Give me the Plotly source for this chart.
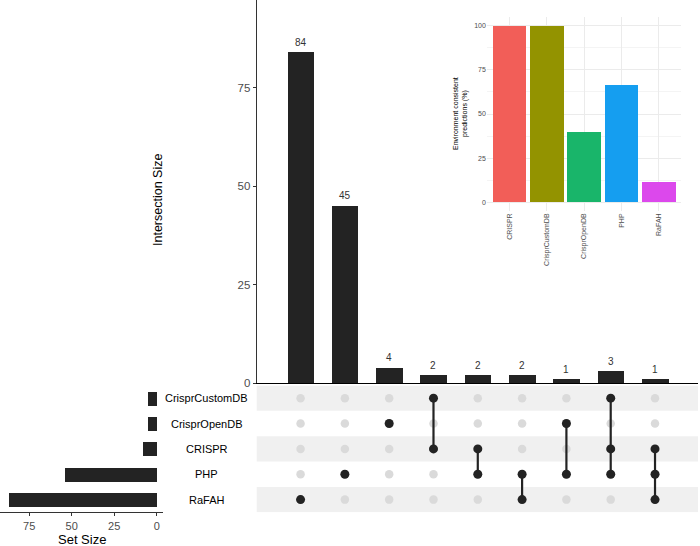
import plotly.graph_objects as go

# ---------------- data ----------------
sets = ["CrisprCustomDB", "CrisprOpenDB", "CRISPR", "PHP", "RaFAH"]   # top -> bottom
set_sizes = [5, 5, 8, 54, 87]
intersection_sizes = [84, 45, 4, 2, 2, 2, 1, 3, 1]
intersection_members = [
    ["RaFAH"],
    ["PHP"],
    ["CrisprOpenDB"],
    ["CrisprCustomDB", "CRISPR"],
    ["CRISPR", "PHP"],
    ["PHP", "RaFAH"],
    ["CrisprOpenDB", "PHP"],
    ["CrisprCustomDB", "CRISPR", "PHP"],
    ["CRISPR", "PHP", "RaFAH"],
]
inset_categories = ["CRISPR", "CrisprCustomDB", "CrisprOpenDB", "PHP", "RaFAH"]
inset_values = [100, 100, 40, 66.7, 11.5]
inset_colors = ["#F25E58", "#939300", "#19B56A", "#159EF0", "#DC48EC"]
main_ticks = [0, 25, 50, 75]
set_ticks = [0, 25, 50, 75]
inset_ticks = [0, 25, 50, 75, 100]

W, H = 700, 546
FONT = "Liberation Sans, Arial, sans-serif"
DARK = "#232323"
TICKC = "#4D4D4D"


def px(x):
    return x / W


def py(y):
    return 1 - y / H


# row index: bottom row = 0
nrow = len(sets)
row_of = {s: nrow - 1 - i for i, s in enumerate(sets)}
ncol = len(intersection_sizes)
cols = list(range(ncol))

fig = go.Figure()

# main intersection bars
fig.add_trace(go.Bar(x=cols, y=intersection_sizes, marker=dict(color=DARK, line=dict(width=0)),
                     width=0.6, xaxis="x", yaxis="y", showlegend=False, hoverinfo="skip"))

# matrix: background dots
gx, gy = [], []
for c in cols:
    for s in sets:
        gx.append(c)
        gy.append(row_of[s])
fig.add_trace(go.Scatter(x=gx, y=gy, mode="markers", marker=dict(color="#DADADA", size=8.5),
                         xaxis="x2", yaxis="y2", showlegend=False, hoverinfo="skip"))
# matrix: connecting lines and active dots
for c, mem in zip(cols, intersection_members):
    rows = sorted(row_of[m] for m in mem)
    if len(rows) > 1:
        fig.add_trace(go.Scatter(x=[c, c], y=[rows[0], rows[-1]], mode="lines",
                                 line=dict(color=DARK, width=2.2), xaxis="x2", yaxis="y2",
                                 showlegend=False, hoverinfo="skip"))
    fig.add_trace(go.Scatter(x=[c] * len(rows), y=rows, mode="markers",
                             marker=dict(color=DARK, size=9), xaxis="x2", yaxis="y2",
                             showlegend=False, hoverinfo="skip"))

# set size bars
fig.add_trace(go.Bar(x=set_sizes, y=[row_of[s] for s in sets], orientation="h", width=0.55,
                     marker=dict(color=DARK, line=dict(width=0)), xaxis="x3", yaxis="y3",
                     showlegend=False, hoverinfo="skip"))

# inset bars
fig.add_trace(go.Bar(x=inset_categories, y=inset_values, marker=dict(color=inset_colors, line=dict(width=0)),
                     width=0.9, xaxis="x4", yaxis="y4", showlegend=False, hoverinfo="skip"))

# ---------------- layout ----------------
main_xrange = [-0.99, 8.97]
mx0, mx1 = px(256.7), px(698)
row_dom = [py(512.3), py(385.5)]

shapes = []
for s in sets[::2]:
    r = row_of[s]
    shapes.append(dict(type="rect", xref="paper", yref="y2", x0=mx0, x1=mx1, y0=r - 0.5, y1=r + 0.5,
                       fillcolor="#F0F0F0", line=dict(width=0), layer="below"))

annotations = []
for c, v in zip(cols, intersection_sizes):
    annotations.append(dict(x=c, y=v, xref="x", yref="y", text=str(v), showarrow=False, yshift=10,
                            xanchor="center", yanchor="middle",
                            font=dict(family=FONT, size=10, color="#333333")))
for s in sets:
    annotations.append(dict(x=px(206.5), y=row_of[s], xref="paper", yref="y2", text=s, showarrow=False,
                            xanchor="center", yanchor="middle", font=dict(family=FONT, size=11, color="black")))
annotations.append(dict(x=px(158), y=py(200), xref="paper", yref="paper", text="Intersection Size",
                        textangle=-90, showarrow=False, xanchor="center", yanchor="middle",
                        font=dict(family=FONT, size=12.5, color="black")))
annotations.append(dict(x=px(82), y=py(539.5), xref="paper", yref="paper", text="Set Size",
                        showarrow=False, xanchor="center", yanchor="middle",
                        font=dict(family=FONT, size=13, color="black")))
annotations.append(dict(x=px(460), y=py(114), xref="paper", yref="paper",
                        text="Environment consistent<br>predictions (%)", textangle=-90, showarrow=False,
                        xanchor="center", yanchor="middle",
                        font=dict(family=FONT, size=7, color="black")))

fig.update_layout(
    width=W, height=H, margin=dict(l=0, r=0, t=0, b=0),
    paper_bgcolor="white", plot_bgcolor="rgba(0,0,0,0)",
    font=dict(family=FONT),
    bargap=0,
    shapes=shapes, annotations=annotations,
    xaxis=dict(domain=[mx0, mx1], range=main_xrange, anchor="y", showticklabels=False, ticks="",
               showgrid=False, zeroline=False, showline=True, linecolor="black", linewidth=1, automargin=False),
    yaxis=dict(domain=[py(383.3), 1], range=[0, 97.25], anchor="x", tickvals=main_ticks, ticks="outside",
               ticklen=3, tickcolor="#333333", tickfont=dict(family=FONT, size=11.5, color=TICKC),
               showgrid=False, zeroline=False, showline=True, linecolor="#333333", linewidth=1,
               automargin=False),
    xaxis2=dict(domain=[mx0, mx1], range=main_xrange, anchor="y2", visible=False),
    yaxis2=dict(domain=row_dom, range=[-0.5, nrow - 0.5], anchor="x2", visible=False),
    xaxis3=dict(domain=[0, px(163)], range=[92.2, -3.7], anchor="y3", tickvals=set_ticks, ticks="outside",
                ticklen=3, tickcolor="#333333", tickfont=dict(family=FONT, size=11, color=TICKC),
                showgrid=False, zeroline=False, showline=True, linecolor="#333333", linewidth=1,
                automargin=False),
    yaxis3=dict(domain=row_dom, range=[-0.5, nrow - 0.5], anchor="x3", visible=False),
    xaxis4=dict(domain=[px(486.9), px(681.4)], range=[-0.6, 4.6], anchor="y4", type="category",
                categoryorder="array", categoryarray=inset_categories, tickangle=-90, ticks="",
                tickfont=dict(family=FONT, size=7, color=TICKC), showgrid=True, gridcolor="#EBEBEB",
                gridwidth=1, zeroline=False, showline=False, automargin=False),
    yaxis4=dict(domain=[py(211), py(17)], range=[-5, 105], anchor="x4", tickvals=inset_ticks, ticks="",
                tickfont=dict(family=FONT, size=7, color=TICKC), showgrid=True, gridcolor="#EBEBEB",
                gridwidth=1, zeroline=False, showline=False, automargin=False,
                minor=dict(dtick=12.5, tick0=0, showgrid=True, gridcolor="#F4F4F4", gridwidth=0.6)),
)

fig.write_html("out.html")
